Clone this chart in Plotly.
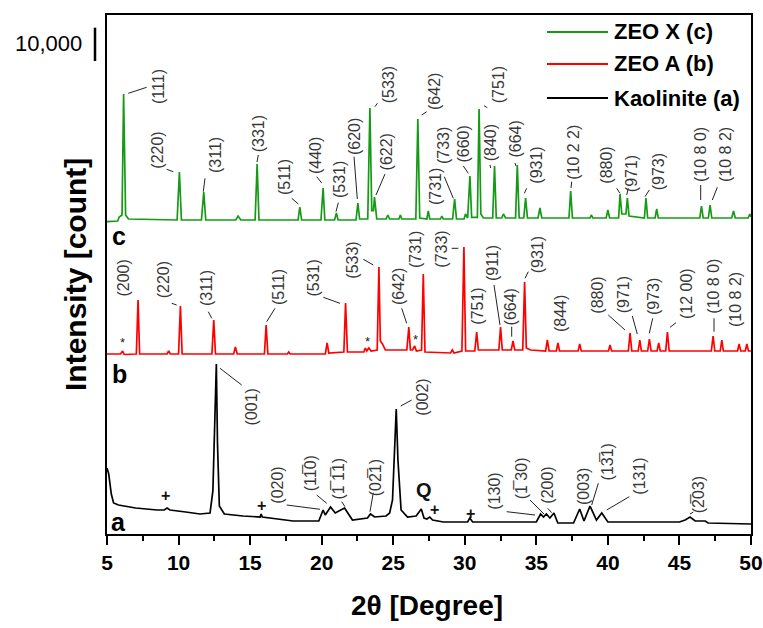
import plotly.graph_objects as go

# ---------------- data (2-theta in degrees, intensity in counts) ----------------
# Kaolinite (a)
tt_a = [5.00, 5.12, 5.30, 5.46, 5.80, 7.00, 8.50, 9.00, 9.20, 9.40, 10.50, 11.50,
        12.20, 12.40, 12.52, 12.64, 12.72, 12.85, 13.20, 14.50, 15.70, 15.77, 15.85,
        17.00, 18.00, 19.80, 20.10, 20.25, 20.62, 20.95, 21.60, 22.15, 23.20, 23.41,
        23.70, 24.50, 24.75, 24.95, 25.12, 25.21, 25.33, 25.55, 26.00, 26.60, 26.96,
        27.15, 27.35, 27.55, 27.75, 28.50, 30.20, 30.35, 30.55, 35.00, 35.30, 35.50,
        35.70, 35.95, 36.23, 36.50, 37.60, 38.03, 38.33, 38.75, 39.20, 39.57, 40.00,
        45.00, 45.40, 45.74, 46.10, 46.80, 47.00, 50.00]
int_a = [19800, 18000, 12000, 9300, 8700, 7800, 7200, 7200, 7800, 7200, 6600, 6000,
         6300, 13000, 32000, 51000, 27300, 8400, 6000, 5400, 5100, 6000, 5100,
         4500, 3900, 3900, 7200, 5700, 8100, 6300, 7800, 4200, 4800, 6000,
         5100, 5400, 6300, 10200, 27300, 37500, 22200, 7200, 5100, 5400, 7500,
         4800, 4500, 5100, 4200, 3600, 3600, 4800, 3600, 3600, 6000, 5100,
         6000, 4800, 6300, 3300, 3300, 7500, 3900, 8400, 4200, 6300, 3600,
         3600, 4200, 5100, 3900, 3900, 3300, 3000]

# ZEO A (b)
tt_b = [5.00, 5.95, 6.09, 6.20, 7.05, 7.17, 7.28, 9.20, 9.31, 9.42, 10.00, 10.13, 10.25,
        12.33, 12.46, 12.58, 13.85, 13.97, 14.10, 16.00, 16.12, 16.24, 17.60, 17.70, 17.80,
        20.26, 20.38, 20.50, 21.55, 21.67, 21.80, 22.95, 23.05, 23.15, 23.30, 23.45,
        23.88, 24.00, 24.10, 24.25, 24.45, 25.95, 26.09, 26.20, 26.35, 26.50, 26.62,
        26.98, 27.10, 27.22, 29.00, 29.13, 29.25, 29.80, 29.94, 30.06, 30.70, 30.83, 30.95,
        32.38, 32.50, 32.62, 33.25, 33.37, 33.49, 34.05, 34.18, 34.30, 34.60, 35.65, 35.77,
        35.89, 36.40, 36.51, 36.62, 37.92, 38.03, 38.14, 40.04, 40.15, 40.26, 41.43, 41.55,
        41.67, 42.12, 42.23, 42.34, 42.78, 42.90, 43.02, 43.44, 43.55, 43.66, 44.04, 44.16,
        44.28, 47.23, 47.35, 47.47, 47.85, 47.96, 48.07, 49.06, 49.17, 49.28, 49.60, 49.71,
        49.82, 50.00]
int_b = [600, 600, 1500, 450, 600, 16800, 600, 600, 1500, 600, 600, 15000, 600,
         600, 10800, 600, 600, 2700, 600, 600, 9300, 600, 600, 1200, 600,
         600, 3900, 900, 1200, 15900, 1200, 1200, 2400, 1500, 2400, 1500,
         1800, 26700, 4500, 3600, 1800, 1800, 8700, 1800, 1800, 3000, 1500,
         1800, 24600, 1200, 900, 1800, 900, 1500, 32700, 1500, 1500, 7200, 1800,
         1800, 8700, 1800, 1800, 4500, 1800, 1800, 22200, 2400, 1800, 1500, 4800,
         1500, 1500, 3900, 1500, 1500, 3600, 1500, 1500, 3300, 1500, 1500, 6900,
         1500, 1500, 4800, 1500, 1500, 5100, 1500, 1500, 3900, 1500, 1500, 7200,
         1500, 1500, 6000, 1500, 1500, 4800, 1500, 1500, 3600, 1500, 1500, 3600,
         1500, 1500]

# ZEO X (c)
tt_c = [5.00, 5.75, 5.85, 6.05, 6.16, 6.22, 6.30, 6.50, 9.20, 9.90, 10.06, 10.20,
        11.60, 11.76, 11.90, 14.00, 14.16, 14.35, 15.35, 15.49, 15.62, 18.35, 18.47, 18.60,
        19.95, 20.10, 20.22, 20.90, 21.03, 21.15, 22.40, 22.53, 22.65, 23.22, 23.37, 23.50,
        23.62, 23.69, 23.85, 24.50, 24.62, 24.75, 25.40, 25.50, 25.60, 26.58, 26.72, 26.85,
        27.35, 27.45, 27.55, 28.30, 28.40, 28.50, 29.15, 29.29, 29.42, 29.95, 30.05, 30.20,
        30.36, 30.48, 30.88, 31.00, 31.12, 31.30, 31.95, 32.08, 32.20, 32.58, 32.70, 32.85,
        33.55, 33.67, 33.80, 34.12, 34.25, 34.38, 35.12, 35.25, 35.38, 37.28, 37.40, 37.52,
        38.75, 38.84, 38.95, 39.88, 40.00, 40.12, 40.75, 40.85, 40.97, 41.26, 41.36, 41.48,
        42.55, 42.66, 42.78, 43.30, 43.41, 43.52, 46.42, 46.54, 46.66, 47.02, 47.14, 47.26,
        48.65, 48.78, 48.90, 49.80, 49.92, 50.00]
int_c = [700, 900, 2100, 2700, 39000, 19200, 2700, 1500, 1200, 1200, 15600, 1200,
         1200, 9600, 1200, 1200, 2400, 1200, 1200, 18000, 1200, 1200, 5100, 1200,
         1200, 10800, 1200, 1200, 3300, 1200, 1200, 6300, 1500, 1500, 34800, 4000,
         4000, 8100, 1500, 1500, 2700, 1500, 1500, 2700, 1500, 1500, 31500, 1800,
         1500, 3900, 1500, 1500, 2400, 1500, 1500, 7500, 1500, 1500, 3000, 1800,
         14400, 2000, 2000, 34500, 3000, 1800, 1800, 17400, 1800, 1800, 3000, 1800,
         1800, 17700, 1800, 1800, 7800, 1800, 1800, 4800, 1800, 1800, 9900, 1800,
         1800, 2700, 1800, 1800, 4200, 1800, 1800, 9000, 3000, 3000, 7800, 2400,
         1800, 7800, 1800, 1800, 4500, 1800, 1800, 5400, 1800, 1800, 5700, 1800,
         1800, 3900, 1800, 1800, 3000, 2100]

series_names = ["ZEO X (c)", "ZEO A (b)", "Kaolinite (a)"]
scale_bar_counts = 10000
x_ticks = [5, 10, 15, 20, 25, 30, 35, 40, 45, 50]

# ---------------- layout helpers ----------------
W, H = 763, 628
L, R, T, B = 107, 751, 15, 534     # plot area in pixels
K = 300                            # counts per pixel
OFF_A, OFF_B, OFF_C = 0, 53400, 93000
Y_TOP = (B - T) * K

GREEN, RED, BLACK = "#169a16", "#ff0000", "#000000"
LBL = "#383838"


def px(x):
    return (x - L) / (R - L)


def py(y):
    return (B - y) / (B - T)


fig = go.Figure()
for tt, it, off, col, nm in [(tt_c, int_c, OFF_C, GREEN, series_names[0]),
                              (tt_b, int_b, OFF_B, RED, series_names[1]),
                              (tt_a, int_a, OFF_A, BLACK, series_names[2])]:
    fig.add_trace(go.Scatter(x=tt, y=[v + off for v in it], mode="lines", name=nm,
                             line=dict(color=col, width=1.7), showlegend=False))

ann = []
shapes = []


def label(t, cx, cy, size=16, color=LBL, angle=-90, bold=False, family="Liberation Sans"):
    ann.append(dict(x=px(cx), y=py(cy), xref="paper", yref="paper", text=t,
                    textangle=angle, showarrow=False, xanchor="center", yanchor="middle",
                    font=dict(family=family, size=size, color=color,
                              weight="bold" if bold else "normal")))


def leader(x0, y0, x1, y1):
    shapes.append(dict(type="line", xref="paper", yref="paper", x0=px(x0), y0=py(y0),
                       x1=px(x1), y1=py(y1), line=dict(color="#222222", width=1)))


# peak labels (c)
for t, cx, cy in [("(111)", 158.3, 86.7), ("(220)", 156.7, 150), ("(311)", 215, 155),
                  ("(331)", 258.3, 134), ("(511)", 285, 177), ("(440)", 315, 156),
                  ("(531)", 339, 180), ("(620)", 354, 137), ("(533)", 388.3, 85),
                  ("(622)", 386.7, 151.7), ("(642)", 434.3, 91.7), ("(731)", 435, 187),
                  ("(733)", 444, 146), ("(660)", 462.5, 144), ("(751)", 498.3, 85),
                  ("(840)", 490, 143.3), ("(664)", 515, 139.5), ("(931)", 536.7, 165),
                  ("(10 2 2)", 573.3, 152.5), ("(880)", 606.7, 165), ("(971)", 631.7, 173.5),
                  ("(973)", 658.3, 172), ("(10 8 0)", 700, 155), ("(10 8 2)", 725, 155)]:
    label(t, cx, cy)
for seg in [(128.3, 93.3, 146.7, 87.3), (166.7, 169.3, 173.3, 171.7), (205, 178.3, 203.3, 191.7),
            (258.3, 155, 257, 162), (291.7, 198.3, 298.3, 204), (316.7, 176.7, 321.7, 183),
            (338.3, 202.7, 336, 211.7), (354, 156.7, 357.3, 199), (375, 106.7, 377.3, 103.3),
            (385, 174, 376, 195), (421.7, 115, 426.7, 111.7), (444.3, 176.7, 453.3, 198.3),
            (463.3, 166, 468.3, 173.3), (484, 105.7, 487.3, 107.7), (490, 165, 490.7, 168),
            (515, 163, 516, 166), (526.7, 188.3, 524.3, 193.3), (571.7, 181.7, 571, 188),
            (616.7, 188.3, 620, 193.3), (628.3, 188.3, 626.7, 195), (649.3, 190, 645, 196.7),
            (700.7, 185, 700.7, 200), (717.3, 187.3, 712.3, 200)]:
    leader(*seg)

# peak labels (b)
for t, cx, cy in [("(200)", 123.3, 278.3), ("(220)", 163.3, 280), ("(311)", 206.7, 288.3),
                  ("(511)", 278.3, 286.7), ("(531)", 313.3, 278.3), ("(533)", 351.7, 260),
                  ("(642)", 398.3, 286.7), ("(731)", 415, 250), ("(733)", 440.7, 249),
                  ("(751)", 476.7, 306), ("(911)", 492.7, 263.3), ("(664)", 510.7, 306.7),
                  ("(931)", 537.3, 255), ("(844)", 560.7, 313.3), ("(880)", 596.7, 295),
                  ("(971)", 623.3, 295), ("(973)", 653.3, 296.7), ("(12 00)", 686.7, 293.3),
                  ("(10 8 0)", 714, 286.7), ("(10 8 2)", 735, 300)]:
    label(t, cx, cy)
for seg in [(171.7, 303.3, 176.7, 305), (208.3, 311.7, 211.7, 318.3), (275, 308.3, 266.7, 321.7),
            (323.3, 297.3, 340, 303.3), (363.3, 259.3, 373.3, 265), (401.7, 308.3, 406.7, 323.3),
            (451.7, 248.3, 458.3, 248.3), (494, 285, 500, 325), (511.7, 326.7, 511.7, 336.7),
            (528.3, 271.7, 525, 278.3), (608.3, 315, 625, 330), (632.3, 316, 637.3, 334),
            (652.7, 318.3, 649.3, 333.3), (676, 322.7, 670, 327.3), (714, 318.3, 714, 331.7)]:
    leader(*seg)

# peak labels (a)
OV = "\u0305"
for t, cx, cy in [("(001)", 251.7, 406.7), ("(020)", 276.7, 485), ("(11" + OV + "0)", 310, 473.3),
                  ("(1" + OV + " 1" + OV + "1)", 338.3, 478.3), ("(02" + OV + "1)", 375, 478.3),
                  ("(002)", 421.7, 397), ("(130)", 495, 491.7), ("(1" + OV + " 30)", 521, 478.3),
                  ("(200)", 546.7, 485), ("(003)", 583.3, 486.7), ("(13" + OV + "1)", 607.7, 461.7),
                  ("(131)", 640, 476.7), ("(2" + OV + "03)", 698.3, 495)]:
    label(t, cx, cy)
for seg in [(220, 368.3, 241.7, 385), (286.7, 505, 320, 509.3), (316.7, 495, 326.7, 503.3),
            (341.7, 501.7, 345, 506.7), (373.3, 492.7, 370, 511.7), (400.7, 406, 411.7, 400),
            (506.7, 511.7, 535, 515), (530, 500, 544, 514), (547.7, 508.3, 551.7, 512.7),
            (598.3, 483.3, 591.7, 505), (629.3, 496.7, 606.7, 510), (693.3, 512, 690, 514)]:
    leader(*seg)

# markers
for cx, cy in [(165, 495), (261.7, 505.7), (434, 509), (470, 513.3)]:
    label("+", cx, cy, size=16, color="#111", angle=0, bold=True)
for cx, cy in [(122.3, 342.5), (367.7, 341.5), (415, 340)]:
    label("*", cx, cy, size=13, color="#222", angle=0)
label("Q", 424, 490, size=20, color="#111", angle=0, bold=True)

# curve letters
label("c", 119, 236, size=25, color="#000", angle=0, bold=True)
label("b", 119.5, 374, size=25, color="#000", angle=0, bold=True)
label("a", 118.5, 522, size=25, color="#000", angle=0, bold=True)

# axis titles
label("Intensity [count]", 75, 275, size=30, color="#000", angle=-90, bold=True)
label("2\u03b8 [Degree]", 427, 605, size=28, color="#000", angle=0, bold=True)

# scale bar
shapes.append(dict(type="line", xref="paper", yref="y", x0=px(95), x1=px(95),
                   y0=Y_TOP - (61 - T) * K, y1=Y_TOP - (61 - T) * K + scale_bar_counts,
                   line=dict(color="#000", width=2.5)))
ann.append(dict(x=px(84), y=py(43), xref="paper", yref="paper", text=f"{scale_bar_counts:,}",
                showarrow=False, xanchor="right", yanchor="middle",
                font=dict(family="Liberation Sans", size=22, color="#000")))

# legend
for i, (nm, col) in enumerate(zip(series_names, [GREEN, RED, BLACK])):
    yy = [32, 64, 98][i]
    shapes.append(dict(type="line", xref="paper", yref="paper", x0=px(547), x1=px(608),
                       y0=py(yy), y1=py(yy), line=dict(color=col, width=2)))
    ann.append(dict(x=px(612), y=py(yy), xref="paper", yref="paper", text=nm,
                    showarrow=False, xanchor="left", yanchor="middle",
                    font=dict(family="Liberation Sans", size=22, color="#000", weight="bold")))

fig.update_layout(
    width=W, height=H, margin=dict(l=L, r=W - R, t=T, b=H - B, autoexpand=False),
    paper_bgcolor="white", plot_bgcolor="white",
    annotations=ann, shapes=shapes, showlegend=False,
    xaxis=dict(range=[5, 50], tickvals=x_ticks, ticks="outside", ticklen=9, tickwidth=2,
               tickcolor="#000", showline=True, linewidth=2, linecolor="#000", mirror=True,
               showgrid=False, zeroline=False, automargin=False,
               tickfont=dict(family="Liberation Sans Narrow, Liberation Sans", size=21,
                             color="#000", weight="bold"),
               minor=dict(dtick=2.5, tick0=5, ticks="outside", ticklen=5, tickwidth=2,
                          tickcolor="#000", showgrid=False)),
    yaxis=dict(range=[0, Y_TOP], showticklabels=False, ticks="", showline=True, linewidth=2,
               linecolor="#000", mirror=True, showgrid=False, zeroline=False, automargin=False),
)

fig.write_html("out.html")
